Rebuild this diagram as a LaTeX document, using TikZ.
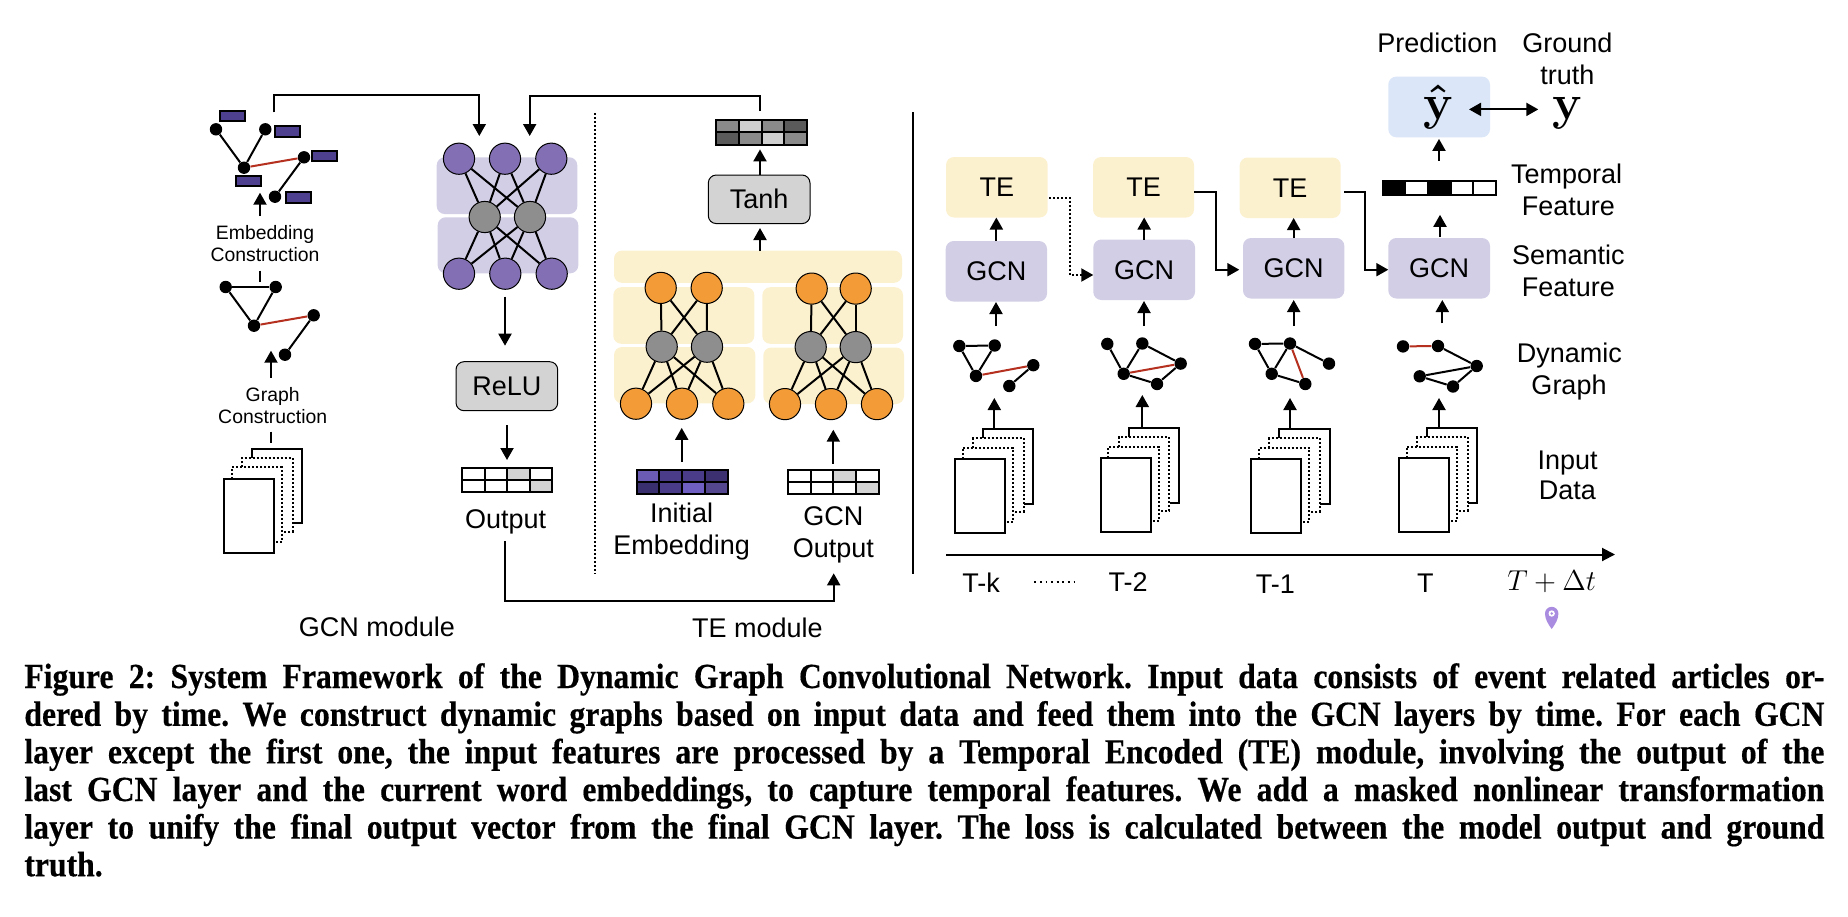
\documentclass[tikz,border=0pt]{standalone}
\usepackage[no-math]{fontspec}
\setsansfont{Liberation Sans}
\newfontfamily\capfont{Liberation Serif}[FakeStretch=0.9,FakeBold=0.4]
\usetikzlibrary{arrows.meta}
\definecolor{palepurple}{HTML}{D2CEE6}
\definecolor{nnpurple}{HTML}{8370B4}
\definecolor{nngray}{HTML}{8E8E8E}
\definecolor{paleyellow}{HTML}{FCF1CF}
\definecolor{nnorange}{HTML}{F29B37}
\definecolor{paleblue}{HTML}{DBE7F8}
\definecolor{boxgray}{HTML}{D3D3D3}
\definecolor{embpurple}{HTML}{4F3F8F}
\definecolor{edgered}{HTML}{B5301F}
\definecolor{pa}{HTML}{6B5BB5}
\definecolor{pb}{HTML}{4A3C88}
\definecolor{pc}{HTML}{3D3070}
\definecolor{pd}{HTML}{3A2F6E}
\definecolor{pe}{HTML}{705FC2}
\definecolor{pf}{HTML}{55478F}
\definecolor{pinpurple}{HTML}{A98BE0}
\definecolor{ga}{HTML}{8A8A8A}
\definecolor{gb}{HTML}{D0D0D0}
\definecolor{gc}{HTML}{5A5A5A}
\tikzset{
  x=0.5pt,y=-0.5pt,
  wire/.style={line width=1pt,black},
  arr/.style={wire,-{Triangle[length=6pt,width=6.5pt]}},
  biarr/.style={wire,{Triangle[length=6pt,width=6.5pt]}-{Triangle[length=6pt,width=6.5pt]}},
  dotline/.style={line width=1pt,dash pattern=on 1pt off 1pt},
  lbl/.style={font=\sffamily\fontsize{13.5}{13.5}\selectfont,inner sep=0pt,text height=9.6pt,text depth=0pt},
  small/.style={font=\sffamily\fontsize{9.7}{9.7}\selectfont,inner sep=0pt,text height=7pt,text depth=0pt},
  bx/.style={inner sep=0pt,outer sep=0pt,rounded corners=4pt,lbl},
  softp/.style={bx,fill=palepurple},
  softy/.style={bx,fill=paleyellow},
  softb/.style={bx,fill=paleblue},
  act/.style={bx,fill=boxgray,draw=black,line width=0.5pt},
  gdot/.style={circle,fill=black,inner sep=0pt,minimum size=6.2pt},
  emb/.style={draw=black,line width=1pt,fill=embpurple,inner sep=0pt,minimum width=12.5pt,minimum height=5.2pt},
  np/.style={circle,draw=black,line width=0.5pt,fill=nnpurple,inner sep=0pt,minimum size=15.6pt},
  ng/.style={circle,draw=black,line width=0.5pt,fill=nngray,inner sep=0pt,minimum size=15.6pt},
  no/.style={circle,draw=black,line width=0.5pt,fill=nnorange,inner sep=0pt,minimum size=15.6pt},
  capline/.style={anchor=west,inner sep=0pt,font=\capfont\bfseries\fontsize{17.6}{17.6}\selectfont\frenchspacing,text height=11pt,text depth=3pt},
  bigmath/.style={anchor=base,inner sep=0pt,font=\fontsize{24}{24}\selectfont\boldmath},
}
% box from corners
\newcommand{\bnode}[7]{\node[#2,minimum width={(#5-#3)*0.5pt},minimum height={(#6-#4)*0.5pt}] (#1) at ({(#3+#5)/2},{(#4+#6)/2}) {#7};}
% document stack, front sheet top-left at #2,#3
\newcommand{\docs}[3]{%
  \begin{scope}[shift={(#2,#3)}]
    \draw[wire] (27.8,-20.7) -- (27.8,-29.8) -- (78.3,-29.8) -- (78.3,44.7) -- (69,44.7);
    \draw[dotline] (18,-11.3) -- (18,-20.7) -- (68.5,-20.7) -- (68.5,53) -- (59,53);
    \draw[dotline] (7.7,0) -- (7.7,-11.3) -- (58,-11.3) -- (58,63) -- (50.3,63);
    \node[draw=black,line width=1pt,fill=white,inner sep=0pt,minimum width=25pt,minimum height=37pt] (#1) at (25,37) {};
  \end{scope}}
% 5-dot graph
\newcommand{\gph}[6]{%
  \node[gdot] (#1a) at (#2) {};
  \node[gdot] (#1b) at (#3) {};
  \node[gdot] (#1c) at (#4) {};
  \node[gdot] (#1d) at (#5) {};
  \node[gdot] (#1e) at (#6) {};}
\newcommand{\ed}[3]{\draw[line width=1pt,#1] (#2) -- (#3);}
% 4x2 table: name,x1,y1,x2,y2, colours
\newcommand{\tbl}[6]{%
  \foreach \cc/\i/\j in {#6}{
    \fill[\cc] ({#2+(#4-#2)*\i/4},{#3+(#5-#3)*\j/2}) rectangle ({#2+(#4-#2)*(\i+1)/4},{#3+(#5-#3)*(\j+1)/2});
  }
  \foreach \i in {1,2,3}{\draw[wire] ({#2+(#4-#2)*\i/4},#3) -- ({#2+(#4-#2)*\i/4},#5);}
  \draw[wire] (#2,{(#3+#5)/2}) -- (#4,{(#3+#5)/2});
  \node[draw=black,line width=1pt,inner sep=0pt,minimum width={(#4-#2)*0.5pt},minimum height={(#5-#3)*0.5pt}] (#1) at ({(#2+#4)/2},{(#3+#5)/2}) {};}
\newcommand{\lnk}[3]{\coordinate (#1s) at (#2); \coordinate (#1e) at (#3);}
\begin{document}
\begin{tikzpicture}
\useasboundingbox (0,0) rectangle (1848,916);
\fill[white] (0,0) rectangle (1848,916);

% ---- left: embedding graph
\gph{g}{216,129.3}{265.3,129.3}{244,167.7}{304,157.3}{275,196.7}
\ed{black}{ga}{gc}\ed{black}{gb}{gc}\ed{black}{gd}{ge}\ed{edgered}{gc}{gd}
\node[emb] (e1) at (232.3,116) {};
\node[emb] (e2) at (287,131.3) {};
\node[emb] (e3) at (324.3,155.7) {};
\node[emb] (e4) at (248.7,181) {};
\node[emb] (e5) at (298.3,197.3) {};
\node[small] (embA) at (265,232) {Embedding};
\node[small] (embB) at (265,254) {Construction};
% ---- left: graph
\gph{h}{225.7,287}{275.7,287}{254,325.7}{313.7,315.3}{285,354.7}
\ed{black}{ha}{hb}\ed{black}{ha}{hc}\ed{black}{hb}{hc}\ed{black}{hd}{he}\ed{edgered}{hc}{hd}
\node[small] (grA) at (272.7,394) {Graph};
\node[small] (grB) at (272.7,416) {Construction};
\lnk{t1}{260,216}{260,192.7}\draw[arr] (t1s) -- (t1e);
\lnk{t2}{260,270.7}{260,281.7}\draw[wire] (t2s) -- (t2e);
\lnk{t3}{271,377.7}{271,350.7}\draw[arr] (t3s) -- (t3e);
\lnk{t4}{271,431.7}{271,442.7}\draw[wire] (t4s) -- (t4e);
\docs{dl}{224}{478.7}

% ---- GCN block
\bnode{gb1}{softp}{436.7}{157.3}{577.3}{214}{}
\bnode{gb2}{softp}{437.7}{217.3}{578.3}{273.3}{}
\foreach \n/\x/\y in {a/459/158.7,b/505/158.7,c/551.3/158.7,d/459/273.7,e/505.3/273.7,f/551.7/273.7}
  \node[np] (n\n) at (\x,\y) {};
\node[ng] (m1) at (484.7,217) {};
\node[ng] (m2) at (530,217) {};
\foreach \s in {a,b,c,d,e,f}\foreach \t in {1,2}\draw[wire] (n\s) -- (m\t);
\coordinate (in1s) at (274.3,112.3);
\coordinate (in1a) at (274.3,95.3);
\coordinate (in1b) at (479.3,95.3);
\coordinate (in1e) at (479.3,136);
\draw[arr] (in1s) -- (in1a) -- (in1b) -- (in1e);
\coordinate (in2s) at (760,111);
\coordinate (in2a) at (760,95.5);
\coordinate (in2b) at (529.7,95.5);
\coordinate (in2e) at (529.7,136);
\draw[arr] (in2s) -- (in2a) -- (in2b) -- (in2e);
\bnode{relu}{act}{456}{361.7}{557.7}{410.7}{ReLU}
\lnk{a1}{505,296.7}{505,345.7}\draw[arr] (a1s) -- (a1e);
\lnk{a2}{507,425}{507,460}\draw[arr] (a2s) -- (a2e);
\tbl{outT}{462}{468.3}{552}{492}{boxgray/2/0,boxgray/3/1}
\node[lbl] (outL) at (505.7,518.5) {Output};
\coordinate (bs) at (505,541);
\coordinate (ba) at (505,600.7);
\coordinate (bb) at (833.7,600.7);
\coordinate (be) at (833.7,573.3);
\draw[arr] (bs) -- (ba) -- (bb) -- (be);
\coordinate (vd1) at (595,113);
\coordinate (vd2) at (595,574);
\draw[dotline] (vd1) -- (vd2);
\coordinate (vs1) at (913.3,112);
\coordinate (vs2) at (913.3,574);
\draw[wire,line width=1.1pt] (vs1) -- (vs2);

% ---- TE block
\tbl{topT}{716}{119.5}{807.3}{145}{ga/0/0,gb/1/0,ga/2/0,gc/3/0,gc/0/1,ga/1/1,gb/2/1,ga/3/1}
\bnode{bar}{softy}{614}{250.6}{902}{282.8}{}
\bnode{yl1}{softy}{613.3}{287.2}{754.3}{343.8}{}
\bnode{yl2}{softy}{614}{347}{755.3}{403.4}{}
\bnode{yr1}{softy}{762.3}{287.2}{903}{343.8}{}
\bnode{yr2}{softy}{763.3}{347.5}{904}{404}{}
\foreach \n/\x/\y in {a/660.7/287.9,b/706.7/287.9,c/636/403.7,d/682/403.7,e/728.3/403.7}
  \node[no] (l\n) at (\x,\y) {};
\foreach \n/\x/\y in {a/811.7/288.6,b/855.7/288.6,c/785/404.1,d/831/404.1,e/877/404.1}
  \node[no] (r\n) at (\x,\y) {};
\node[ng] (lm1) at (661.7,346.7) {};
\node[ng] (lm2) at (707,346.7) {};
\node[ng] (rm1) at (810.7,347.1) {};
\node[ng] (rm2) at (855.7,347.1) {};
\foreach \s in {a,b,c,d,e}\foreach \t in {1,2}{\draw[wire] (l\s) -- (lm\t); \draw[wire] (r\s) -- (rm\t);}
\bnode{tanh}{act}{708.3}{175}{810}{223.6}{Tanh}
\lnk{a3}{760,251}{760,228}\draw[arr] (a3s) -- (a3e);
\lnk{a4}{760,174.5}{760,149.4}\draw[arr] (a4s) -- (a4e);
\lnk{a5}{681.7,461.8}{681.7,427.9}\draw[arr] (a5s) -- (a5e);
\lnk{a6}{833.3,463.7}{833.3,429.7}\draw[arr] (a6s) -- (a6e);
\tbl{initT}{636.7}{469.5}{727.7}{494}{pa/0/0,pb/1/0,pb/2/0,pc/3/0,pd/0/1,pb/1/1,pe/2/1,pf/3/1}
\tbl{gcnT}{788}{469.5}{878.7}{494}{boxgray/2/0,boxgray/3/1}
\node[lbl] (iniL) at (681.7,513) {Initial};
\node[lbl] (emL) at (681.7,545) {Embedding};
\node[lbl] (goA) at (833.3,515.5) {GCN};
\node[lbl] (goB) at (833.3,547.5) {Output};
\node[lbl] (gm) at (377,627) {GCN module};
\node[lbl] (tm) at (757.3,628) {TE module};

% ---- timeline: TE and GCN boxes
\bnode{te1}{softy}{946}{157}{1047.7}{217.5}{TE}
\bnode{te2}{softy}{1093}{157}{1194}{217.5}{TE}
\bnode{te3}{softy}{1239.7}{157.5}{1340.7}{218}{TE}
\bnode{gc1}{softp}{945.7}{241}{1047}{301.5}{GCN}
\bnode{gc2}{softp}{1093.3}{239.5}{1195}{300}{GCN}
\bnode{gc3}{softp}{1243}{238}{1344.3}{298.5}{GCN}
\bnode{gc4}{softp}{1388.3}{238}{1490}{298.5}{GCN}
\bnode{pred}{softb}{1388.3}{76.6}{1490}{137.3}{}
\node[bigmath] (yh) at (1438.3,119.5) {$\hat{\mathbf{y}}$};
\node[bigmath] (yy) at (1567.3,119.5) {$\mathbf{y}$};
\node[lbl] (pl) at (1437.3,42.5) {Prediction};
\node[lbl] (gt1) at (1567.3,42.5) {Ground};
\node[lbl] (gt2) at (1567.3,74.5) {truth};
\draw[biarr] (1469,109.4) coordinate (da) -- (1538.3,109.4) coordinate (db);

% feature bar
\foreach \i/\c in {0/black,1/white,2/black,3/white,4/white}
  \fill[\c] ({1382.7+22.6*\i},181) rectangle ({1382.7+22.6*(\i+1)},195);
\foreach \i in {1,2,3,4}\draw[wire] ({1382.7+22.6*\i},181) -- ({1382.7+22.6*\i},195);
\node[draw=black,line width=1pt,inner sep=0pt,minimum width=56.5pt,minimum height=7pt] (fbar) at (1439.2,188) {};

% graphs
\gph{p}{959.3,346}{994.7,345.5}{976,375.9}{1033.3,365.2}{1009.3,386}
\ed{black}{pa}{pb}\ed{black}{pa}{pc}\ed{black}{pb}{pc}\ed{black}{pd}{pe}\ed{edgered}{pc}{pd}
\gph{q}{1107.3,343.9}{1142.3,343.5}{1123.7,373.8}{1180.7,363.6}{1157,384}
\ed{black}{qa}{qc}\ed{black}{qb}{qc}\ed{black}{qb}{qd}\ed{black}{qc}{qe}\ed{black}{qd}{qe}\ed{edgered}{qc}{qd}
\gph{u}{1255,343.9}{1290,343.5}{1271.7,373.8}{1329,363.6}{1305.3,384}
\ed{black}{ua}{ub}\ed{black}{ua}{uc}\ed{black}{ub}{uc}\ed{black}{ub}{ud}\ed{black}{uc}{ue}\ed{edgered}{ub}{ue}
\gph{v}{1403,346.4}{1438,346}{1419.7,376.3}{1476.7,366}{1453,386.5}
\ed{edgered}{va}{vb}\ed{black}{vb}{vd}\ed{black}{vc}{vd}\ed{black}{vc}{ve}\ed{black}{vd}{ve}

% documents
\docs{d1}{955}{459}
\docs{d2}{1100.7}{458}
\docs{d3}{1251.3}{459}
\docs{d4}{1399}{458}

% arrows
\draw[arr] (gc1.north) -- (gc1.north |- te1.south);
\draw[arr] (gc2.north) -- (gc2.north |- te2.south);
\draw[arr] (gc3.north) -- (gc3.north |- te3.south);
\lnk{f1}{1440,237}{1440,214.8}\draw[arr] (f1s) -- (f1e);
\lnk{f2}{1439,160.6}{1439,138.9}\draw[arr] (f2s) -- (f2e);
\lnk{h1}{996,326}{996,302}\draw[arr] (h1s) -- (h1e);
\lnk{h2}{1144,326}{1144,301}\draw[arr] (h2s) -- (h2e);
\lnk{h3}{1293.7,326}{1293.7,300}\draw[arr] (h3s) -- (h3e);
\lnk{h4}{1442.3,323.4}{1442.3,300}\draw[arr] (h4s) -- (h4e);
\lnk{k1}{994.3,429}{994.3,398}\draw[arr] (k1s) -- (k1e);
\lnk{k2}{1142.3,428}{1142.3,395}\draw[arr] (k2s) -- (k2e);
\lnk{k3}{1290,429}{1290,398}\draw[arr] (k3s) -- (k3e);
\lnk{k4}{1439,428}{1439,398}\draw[arr] (k4s) -- (k4e);
\draw[dotline,-{Triangle[length=6pt,width=6.5pt]}] (1049.3,197.5) coordinate (x1) -- (1070.3,197.5) -- (1070.3,275) -- (gc2.west |- 0,275);
\draw[arr] (te2.east |- 0,192.2) -- (1215.7,192.2) -- (1215.7,269.7) -- (1239.3,269.7);
\draw[arr] (1344.3,192.2) coordinate (x2) -- (1365.3,192.2) -- (1365.3,269.7) -- (gc4.west |- 0,269.7);

% axis
\coordinate (ax1) at (946,554.5);
\coordinate (ax2) at (1615,554.5);
\draw[wire,-{Triangle[length=6.5pt,width=6.5pt]}] (ax1) -- (ax2);
\node[lbl] (tk) at (981,583) {T-k};
\coordinate (dd1) at (1034.3,582);
\coordinate (dd2) at (1074,582);
\draw[line width=0.9pt,dash pattern=on 0.9pt off 1.9pt] (dd1) -- (dd2);
\node[lbl] (t2) at (1128,582) {T-2};
\node[lbl] (t1) at (1275.3,584) {T-1};
\node[lbl] (t0) at (1425.3,583) {T};
\node[inner sep=0pt,font=\fontsize{14}{14}\selectfont] (td) at (1551.7,582) {$T+\Delta t$};
% pin
\fill[pinpurple] (1551.7,629) .. controls (1548,624) and (1545,619) .. (1545,613.5)
  .. controls (1545,609.8) and (1548,606.8) .. (1551.7,606.8)
  .. controls (1555.4,606.8) and (1558.4,609.8) .. (1558.4,613.5)
  .. controls (1558.4,619) and (1555.4,624) .. (1551.7,629) -- cycle;
\fill[white] (1551.7,613.5) circle (1.6pt);
\fill[pinpurple] (1551.7,613.5) circle (0.7pt);

% right labels
\node[lbl] at (1566.7,174) {Temporal};
\node[lbl] at (1568.3,206) {Feature};
\node[lbl] at (1568.3,255) {Semantic};
\node[lbl] at (1568.3,287) {Feature};
\node[lbl] at (1569.3,353) {Dynamic};
\node[lbl] at (1569,385) {Graph};
\node[lbl] at (1567.7,459.5) {Input};
\node[lbl] at (1567.3,490) {Data};

% caption
\node[capline] (c1) at (24,680) {\makebox[900pt][s]{Figure 2: System Framework of the Dynamic Graph Convolutional Network. Input data consists of event related articles or-}};
\node[capline] (c2) at (24,717.8) {\makebox[900pt][s]{dered by time. We construct dynamic graphs based on input data and feed them into the GCN layers by time. For each GCN}};
\node[capline] (c3) at (24,755.4) {\makebox[900pt][s]{layer except the first one, the input features are processed by a Temporal Encoded (TE) module, involving the output of the}};
\node[capline] (c4) at (24,793) {\makebox[900pt][s]{last GCN layer and the current word embeddings, to capture temporal features. We add a masked nonlinear transformation}};
\node[capline] (c5) at (24,830.6) {\makebox[900pt][s]{layer to unify the final output vector from the final GCN layer. The loss is calculated between the model output and ground}};
\node[capline] (c6) at (24,868.2) {truth.};
\end{tikzpicture}
\end{document}
